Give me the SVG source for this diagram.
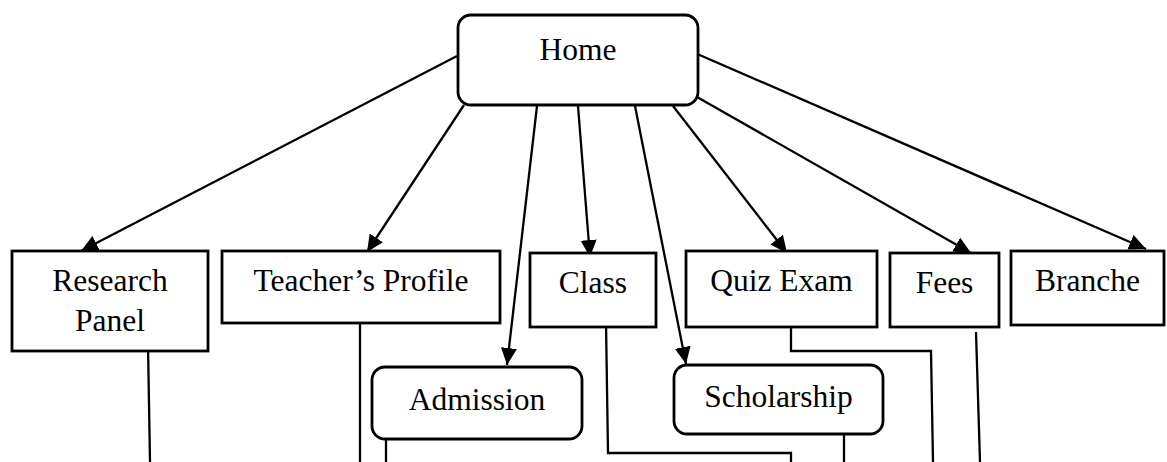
<svg xmlns="http://www.w3.org/2000/svg" width="1167" height="462" viewBox="0 0 1167 462">
  <defs>
    <marker id="arrow" markerUnits="userSpaceOnUse" markerWidth="18" markerHeight="17" refX="17" refY="8" orient="auto">
      <path d="M0,0 L17,8 L0,16 z" fill="#000"/>
    </marker>
    <style>
      .box { fill: #fff; stroke: #000; stroke-width: 2.8; }
      .lbl { font-family: "Liberation Serif", "Times New Roman", serif; font-size: 31.5px; fill: #000; text-anchor: middle; }
      .edge { fill: none; stroke: #000; stroke-width: 2.3; }
      .arr { marker-end: url(#arrow); }
    </style>
  </defs>
  <rect width="1167" height="462" fill="#fff"/>

  <g id="connectors">
    <line class="edge arr" x1="457" y1="56" x2="81" y2="251"/>
    <line class="edge arr" x1="464" y1="105" x2="367" y2="252"/>
    <line class="edge arr" x1="537" y1="106" x2="507" y2="365"/>
    <line class="edge arr" x1="578" y1="106" x2="590" y2="257"/>
    <line class="edge arr" x1="635" y1="106" x2="686" y2="364"/>
    <line class="edge arr" x1="673" y1="106" x2="787" y2="253"/>
    <line class="edge arr" x1="697" y1="97" x2="971" y2="253"/>
    <line class="edge arr" x1="695" y1="53" x2="1146" y2="249"/>

    <line class="edge" x1="148" y1="345" x2="150" y2="462"/>
    <line class="edge" x1="360" y1="323" x2="360" y2="462"/>
    <line class="edge" x1="386" y1="435" x2="386" y2="462"/>
    <polyline class="edge" points="606,323 608,453 791,453 791,462"/>
    <line class="edge" x1="844" y1="435" x2="844" y2="462"/>
    <polyline class="edge" points="791,324 791,351 931,351 933,462"/>
    <line class="edge" x1="976" y1="332" x2="980" y2="462"/>
  </g>

  <g id="home">
    <rect class="box" x="458" y="15" width="240" height="90" rx="13"/>
    <text class="lbl" x="578" y="60">Home</text>
  </g>
  <g id="research-panel">
    <rect class="box" x="12" y="251" width="196" height="100"/>
    <text class="lbl" x="110" y="291">Research</text>
    <text class="lbl" x="110" y="331">Panel</text>
  </g>
  <g id="teachers-profile">
    <rect class="box" x="222" y="251" width="278" height="72"/>
    <text class="lbl" x="361" y="291">Teacher’s Profile</text>
  </g>
  <g id="class">
    <rect class="box" x="530" y="253" width="126" height="74"/>
    <text class="lbl" x="593" y="293">Class</text>
  </g>
  <g id="quiz-exam">
    <rect class="box" x="686" y="251" width="191" height="76"/>
    <text class="lbl" x="781.5" y="291">Quiz Exam</text>
  </g>
  <g id="fees">
    <rect class="box" x="890" y="253" width="109" height="74"/>
    <text class="lbl" x="944.5" y="293">Fees</text>
  </g>
  <g id="branche">
    <rect class="box" x="1011" y="251" width="153" height="74"/>
    <text class="lbl" x="1087.5" y="291">Branche</text>
  </g>
  <g id="admission">
    <rect class="box" x="372" y="367" width="210" height="72" rx="13"/>
    <text class="lbl" x="477" y="410">Admission</text>
  </g>
  <g id="scholarship">
    <rect class="box" x="674" y="365" width="209" height="69" rx="13"/>
    <text class="lbl" x="778.5" y="407">Scholarship</text>
  </g>
</svg>
